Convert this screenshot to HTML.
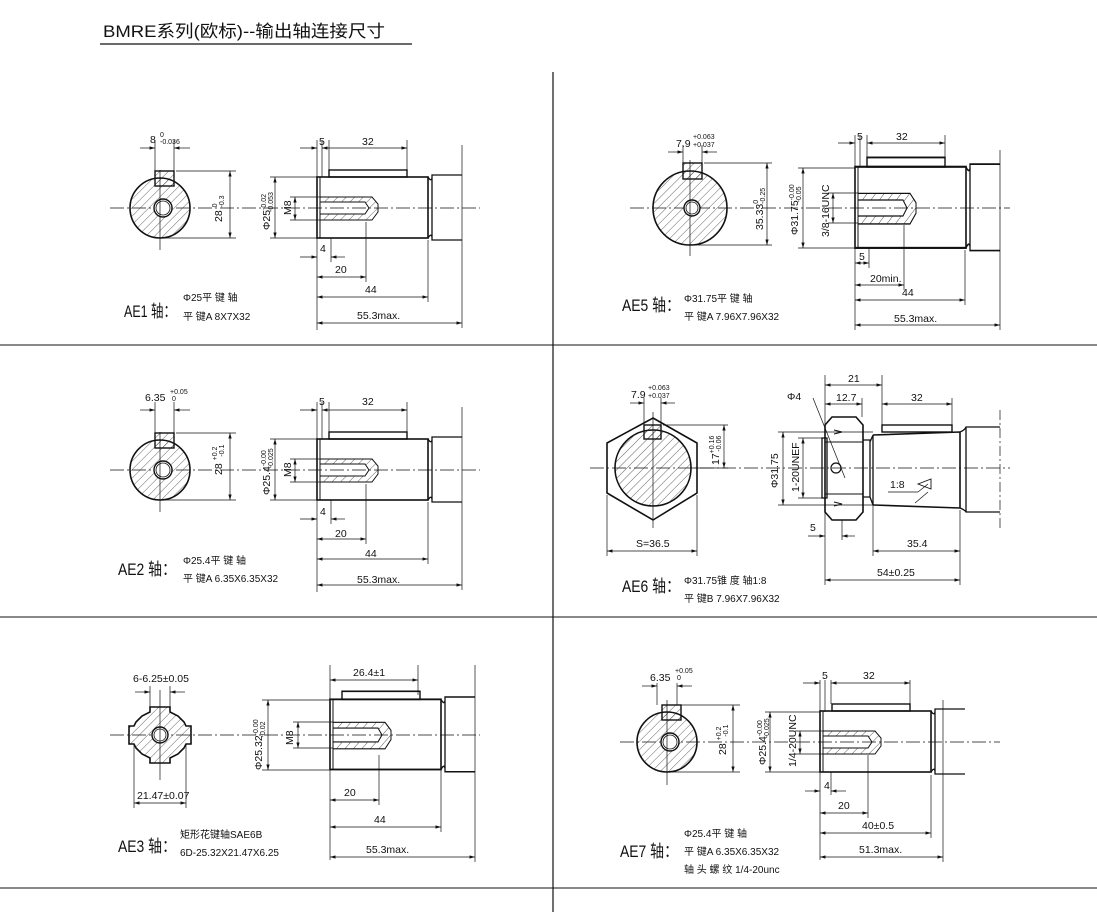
<!DOCTYPE html>
<html><head><meta charset="utf-8"><style>
html,body{margin:0;padding:0;background:#fff;}
svg{display:block;font-family:"Liberation Sans Narrow","Liberation Sans","Noto Sans CJK SC",sans-serif;}
.t{font-size:11px;fill:#111}
.s{font-size:7px;fill:#111}
.lb{font-size:17px;fill:#111;font-family:"Liberation Sans Narrow","Liberation Sans","Noto Sans CJK SC",sans-serif}
.d{font-size:10.5px;fill:#111;font-family:"Liberation Sans Narrow","Liberation Sans","Noto Sans CJK SC",sans-serif}
</style></head><body>
<svg width="1097" height="912" viewBox="0 0 1097 912" xmlns="http://www.w3.org/2000/svg">
<defs>
<pattern id="h" width="6" height="6" patternUnits="userSpaceOnUse" patternTransform="rotate(45)"><line x1="0" y1="0" x2="0" y2="6" stroke="#222" stroke-width="0.7"/></pattern>
<marker id="a" viewBox="0 0 10 6" refX="10" refY="3" markerWidth="8" markerHeight="5" orient="auto-start-reverse"><path d="M0,0 L10,3 L0,6 z" fill="#111"/></marker>
<g id="shaft" fill="none" stroke="#111">
 <rect x="317" y="177" width="111" height="61" stroke-width="1.6"/>
 <rect x="329" y="170" width="78" height="7" stroke-width="1.4"/>
 <path d="M428,177 Q431,182 432,178 L432,175 L462,175 M428,238 Q431,233 432,237 L432,240 L462,240 M432,178 L432,237" stroke-width="1.3"/>
 <path d="M320,197 L372,197 L378,204 L378,212 L372,220 L320,220 L320,214 L365,214 L369,208 L365,202 L320,202 Z" fill="url(#h)" stroke-width="1"/>
 <path d="M320,177 L320,238" stroke-width="1"/>
</g>
<g id="keycirc">
 <circle cx="160" cy="208" r="30" fill="url(#h)" stroke="#111" stroke-width="1.6"/>
 <rect x="155" y="171" width="19" height="15" fill="url(#h)" stroke="#111" stroke-width="1.4"/>
 <circle cx="163" cy="208" r="9" fill="#fff" stroke="#111" stroke-width="1.4"/>
 <circle cx="163" cy="208" r="7" fill="none" stroke="#111" stroke-width="0.8"/>
</g>
</defs>

<!-- frame -->
<text x="103" y="37" style="font-size:17px" fill="#111" textLength="282" lengthAdjust="spacingAndGlyphs">BMRE系列(欧标)--输出轴连接尺寸</text>
<line x1="100" y1="44" x2="412" y2="44" stroke="#111" stroke-width="1.2"/>
<line x1="553" y1="72" x2="553" y2="912" stroke="#111" stroke-width="1.2"/>
<line x1="0" y1="345" x2="1097" y2="345" stroke="#111" stroke-width="1"/>
<line x1="0" y1="617" x2="1097" y2="617" stroke="#111" stroke-width="1"/>
<line x1="0" y1="888" x2="1097" y2="888" stroke="#111" stroke-width="1"/>

<g stroke="#111" stroke-width="0.7" fill="none" stroke-dasharray="14,3,2,3">
<line x1="110" y1="208" x2="480" y2="208"/><line x1="110" y1="470" x2="480" y2="470"/><line x1="110" y1="735" x2="480" y2="735"/>
<line x1="630" y1="208" x2="1010" y2="208"/><line x1="590" y1="468" x2="1010" y2="468"/><line x1="620" y1="742" x2="1000" y2="742"/>
</g>

<!-- AE1 -->
<g id="p1">
<use href="#keycirc"/><use href="#shaft"/>
<g stroke="#111" stroke-width="0.7" fill="none">
<line x1="160" y1="170" x2="160" y2="250"/>
<line x1="155" y1="140" x2="155" y2="171"/><line x1="174" y1="140" x2="174" y2="171"/>
<line x1="140" y1="148" x2="155" y2="148" marker-end="url(#a)"/><line x1="190" y1="148" x2="174" y2="148" marker-end="url(#a)"/>
<line x1="176" y1="171" x2="236" y2="171"/><line x1="162" y1="238" x2="236" y2="238"/>
<line x1="230" y1="171" x2="230" y2="238" marker-start="url(#a)" marker-end="url(#a)"/>
<line x1="317" y1="140" x2="317" y2="330"/><line x1="322" y1="140" x2="322" y2="177"/><line x1="329" y1="140" x2="329" y2="170"/><line x1="407" y1="140" x2="407" y2="170"/>
<line x1="300" y1="148" x2="317" y2="148" marker-end="url(#a)"/><line x1="322" y1="148" x2="407" y2="148" marker-start="url(#a)" marker-end="url(#a)"/>
<line x1="331" y1="238" x2="331" y2="262"/><line x1="300" y1="257" x2="317" y2="257" marker-end="url(#a)"/><line x1="345" y1="257" x2="331" y2="257" marker-end="url(#a)"/>
<line x1="366" y1="222" x2="366" y2="282"/><line x1="317" y1="277" x2="366" y2="277" marker-start="url(#a)" marker-end="url(#a)"/>
<line x1="428" y1="240" x2="428" y2="302"/><line x1="317" y1="297" x2="428" y2="297" marker-start="url(#a)" marker-end="url(#a)"/>
<line x1="462" y1="145" x2="462" y2="328"/><line x1="317" y1="323" x2="462" y2="323" marker-start="url(#a)" marker-end="url(#a)"/>
<line x1="270" y1="177" x2="317" y2="177"/><line x1="270" y1="238" x2="317" y2="238"/>
<line x1="275" y1="177" x2="275" y2="238" marker-start="url(#a)" marker-end="url(#a)"/>
<line x1="290" y1="197" x2="320" y2="197"/><line x1="290" y1="220" x2="320" y2="220"/>
<line x1="295" y1="197" x2="295" y2="220" marker-start="url(#a)" marker-end="url(#a)"/>
</g>
</g>
<text class="d" x="150" y="143">8</text><text class="s" x="160" y="137">0</text><text class="s" x="160" y="144">-0.036</text>
<text class="d" transform="translate(222,222) rotate(-90)">28 <tspan class="s" dy="-5">0</tspan><tspan class="s" dx="-4" dy="7">-0.3</tspan></text>
<text class="d" x="319" y="145">5</text><text class="d" x="362" y="145">32</text>
<text class="d" x="320" y="252">4</text><text class="d" x="335" y="273">20</text><text class="d" x="365" y="293">44</text><text class="d" x="357" y="319">55.3max.</text>
<text class="d" transform="translate(270,230) rotate(-90)">Φ25<tspan class="s" dy="-4">-0.02</tspan><tspan class="s" dx="-18" dy="7">-0.053</tspan></text>
<text class="d" transform="translate(291,215) rotate(-90)">M8</text>
<text class="lb" x="124" y="317" textLength="52" lengthAdjust="spacingAndGlyphs">AE1 轴：</text>
<text class="t" x="183" y="301" style="font-size:10px">Φ25平 键 轴</text><text class="t" x="183" y="320" style="font-size:10px">平 键A 8X7X32</text>

<!-- AE2 -->
<g transform="translate(0,262)">
<use href="#p1"/>
</g>
<g transform="translate(0,255)">
<text class="d" x="145" y="146">6.35</text><text class="s" x="170" y="139">+0.05</text><text class="s" x="172" y="146">0</text>
<text class="d" transform="translate(222,220) rotate(-90)">28 <tspan class="s" dy="-5">+0.2</tspan><tspan class="s" dx="-10" dy="7">-0.1</tspan></text>
<text class="d" x="319" y="150">5</text><text class="d" x="362" y="150">32</text>
<text class="d" x="320" y="260">4</text><text class="d" x="335" y="282">20</text><text class="d" x="365" y="302">44</text><text class="d" x="357" y="328">55.3max.</text>
<text class="d" transform="translate(270,240) rotate(-90)">Φ25.4<tspan class="s" dy="-4">-0.00</tspan><tspan class="s" dx="-18" dy="7">-0.025</tspan></text>
<text class="d" transform="translate(291,222) rotate(-90)">M8</text>
<text class="lb" x="118" y="320" textLength="58" lengthAdjust="spacingAndGlyphs">AE2 轴：</text>
<text class="t" x="183" y="309" style="font-size:10px">Φ25.4平 键 轴</text><text class="t" x="183" y="327" style="font-size:10px">平 键A 6.35X6.35X32</text>
</g>

<!-- AE3 -->
<g transform="translate(13,735) scale(1,1.15) translate(0,-208)"><use href="#shaft"/></g>
<g stroke="#111" fill="none">
<path d="M150,707 L170,707 L170,712 L178,716 L184,722 L186,726 L191,726 L191,744 L186,744 L184,748 L178,754 L170,758 L170,763 L150,763 L150,758 L142,754 L136,748 L134,744 L129,744 L129,726 L134,726 L136,722 L142,716 L150,712 Z" fill="url(#h)" stroke-width="1.6"/>
<circle cx="160" cy="735" r="8" fill="#fff" stroke-width="1.4"/><circle cx="160" cy="735" r="6" stroke-width="0.8"/>
<g stroke-width="0.7">
<line x1="160" y1="690" x2="160" y2="780"/>
<line x1="150" y1="686" x2="150" y2="707"/><line x1="170" y1="686" x2="170" y2="707"/>
<line x1="135" y1="692" x2="150" y2="692" marker-end="url(#a)"/><line x1="185" y1="692" x2="170" y2="692" marker-end="url(#a)"/>
<line x1="134" y1="745" x2="134" y2="808"/><line x1="186" y1="745" x2="186" y2="808"/>
<line x1="134" y1="803" x2="186" y2="803" marker-start="url(#a)" marker-end="url(#a)"/>
<line x1="330" y1="665" x2="330" y2="860"/><line x1="418" y1="665" x2="418" y2="695"/>
<line x1="330" y1="680" x2="418" y2="680" marker-start="url(#a)" marker-end="url(#a)"/>
<line x1="379" y1="755" x2="379" y2="805"/><line x1="330" y1="800" x2="379" y2="800" marker-start="url(#a)" marker-end="url(#a)"/>
<line x1="441" y1="770" x2="441" y2="832"/><line x1="330" y1="827" x2="441" y2="827" marker-start="url(#a)" marker-end="url(#a)"/>
<line x1="475" y1="665" x2="475" y2="862"/><line x1="330" y1="857" x2="475" y2="857" marker-start="url(#a)" marker-end="url(#a)"/>
<line x1="262" y1="700" x2="330" y2="700"/><line x1="262" y1="770" x2="330" y2="770"/>
<line x1="268" y1="700" x2="268" y2="770" marker-start="url(#a)" marker-end="url(#a)"/>
<line x1="293" y1="722" x2="333" y2="722"/><line x1="293" y1="748" x2="333" y2="748"/>
<line x1="298" y1="722" x2="298" y2="748" marker-start="url(#a)" marker-end="url(#a)"/>
</g></g>
<text class="d" x="133" y="682">6-6.25±0.05</text>
<text class="d" x="137" y="799">21.47±0.07</text>
<text class="d" x="353" y="676">26.4±1</text><text class="d" x="344" y="796">20</text><text class="d" x="374" y="823">44</text><text class="d" x="366" y="853">55.3max.</text>
<text class="d" transform="translate(262,770) rotate(-90)">Φ25.32<tspan class="s" dy="-4">-0.00</tspan><tspan class="s" dx="-18" dy="7">-0.02</tspan></text>
<text class="d" transform="translate(293,745) rotate(-90)">M8</text>
<text class="lb" x="118" y="852" textLength="58" lengthAdjust="spacingAndGlyphs">AE3 轴：</text>
<text class="t" x="180" y="838" style="font-size:10px">矩形花键轴SAE6B</text><text class="t" x="180" y="856" style="font-size:10px">6D-25.32X21.47X6.25</text>

<!-- AE5 -->
<g transform="translate(538,208) scale(1,1.33) translate(0,-208)"><use href="#shaft"/></g>
<g stroke="#111" fill="none">
<circle cx="690" cy="208" r="37" fill="url(#h)" stroke-width="1.6"/>
<rect x="683" y="163" width="19" height="16" fill="url(#h)" stroke-width="1.4"/>
<circle cx="692" cy="208" r="8" fill="#fff" stroke-width="1.4"/><circle cx="692" cy="208" r="6" stroke-width="0.8"/>
<g stroke-width="0.7">
<line x1="690" y1="160" x2="690" y2="256"/>
<line x1="683" y1="145" x2="683" y2="163"/><line x1="702" y1="145" x2="702" y2="163"/>
<line x1="668" y1="152" x2="683" y2="152" marker-end="url(#a)"/><line x1="717" y1="152" x2="702" y2="152" marker-end="url(#a)"/>
<line x1="704" y1="163" x2="772" y2="163"/><line x1="692" y1="245" x2="772" y2="245"/>
<line x1="767" y1="163" x2="767" y2="245" marker-start="url(#a)" marker-end="url(#a)"/>
<line x1="855" y1="135" x2="855" y2="330"/><line x1="860" y1="135" x2="860" y2="167"/><line x1="867" y1="135" x2="867" y2="160"/><line x1="945" y1="135" x2="945" y2="160"/>
<line x1="838" y1="143" x2="855" y2="143" marker-end="url(#a)"/><line x1="867" y1="143" x2="945" y2="143" marker-start="url(#a)" marker-end="url(#a)"/>
<line x1="869" y1="248" x2="869" y2="268"/><line x1="855" y1="263" x2="869" y2="263" marker-start="url(#a)" marker-end="url(#a)"/>
<line x1="904" y1="225" x2="904" y2="290"/><line x1="855" y1="285" x2="904" y2="285" marker-start="url(#a)" marker-end="url(#a)"/>
<line x1="965" y1="250" x2="965" y2="305"/><line x1="855" y1="300" x2="965" y2="300" marker-start="url(#a)" marker-end="url(#a)"/>
<line x1="1000" y1="150" x2="1000" y2="330"/><line x1="855" y1="325" x2="1000" y2="325" marker-start="url(#a)" marker-end="url(#a)"/>
<line x1="798" y1="168" x2="855" y2="168"/><line x1="798" y1="248" x2="855" y2="248"/>
<line x1="803" y1="168" x2="803" y2="248" marker-start="url(#a)" marker-end="url(#a)"/>
<line x1="828" y1="193" x2="858" y2="193"/><line x1="828" y1="223" x2="858" y2="223"/>
<line x1="833" y1="193" x2="833" y2="223" marker-start="url(#a)" marker-end="url(#a)"/>
</g></g>
<text class="d" x="676" y="147">7.9</text><text class="s" x="693" y="139">+0.063</text><text class="s" x="693" y="147">+0.037</text>
<text class="d" transform="translate(763,230) rotate(-90)">35.33<tspan class="s" dy="-5">0</tspan><tspan class="s" dx="-4" dy="7">-0.25</tspan></text>
<text class="d" x="857" y="140">5</text><text class="d" x="896" y="140">32</text>
<text class="d" x="859" y="260">5</text><text class="d" x="870" y="282">20min.</text><text class="d" x="902" y="296">44</text><text class="d" x="894" y="322">55.3max.</text>
<text class="d" transform="translate(798,235) rotate(-90)">Φ31.75<tspan class="s" dy="-4">-0.00</tspan><tspan class="s" dx="-18" dy="7">-0.05</tspan></text>
<text class="d" transform="translate(829,237) rotate(-90)">3/8-16UNC</text>
<text class="lb" x="622" y="311" textLength="58" lengthAdjust="spacingAndGlyphs">AE5 轴：</text>
<text class="t" x="684" y="302" style="font-size:10px">Φ31.75平 键 轴</text><text class="t" x="684" y="320" style="font-size:10px">平 键A 7.96X7.96X32</text>

<!-- AE6 -->
<g stroke="#111" fill="none">
<polygon points="653,418 697,443 697,493 653,520 607,493 607,443" stroke-width="1.6"/>
<circle cx="653" cy="468" r="38" fill="url(#h)" stroke-width="1.6"/>
<rect x="644" y="425" width="17" height="14" fill="url(#h)" stroke-width="1.4"/>
<g stroke-width="0.7">
<line x1="653" y1="412" x2="653" y2="528"/>
<line x1="644" y1="398" x2="644" y2="425"/><line x1="661" y1="398" x2="661" y2="425"/>
<line x1="630" y1="403" x2="644" y2="403" marker-end="url(#a)"/><line x1="675" y1="403" x2="661" y2="403" marker-end="url(#a)"/>
<line x1="663" y1="425" x2="728" y2="425"/><line x1="690" y1="468" x2="728" y2="468"/>
<line x1="724" y1="425" x2="724" y2="468" marker-start="url(#a)" marker-end="url(#a)"/>
<line x1="607" y1="495" x2="607" y2="556"/><line x1="697" y1="495" x2="697" y2="556"/>
<line x1="607" y1="551" x2="697" y2="551" marker-start="url(#a)" marker-end="url(#a)"/>
</g>
<path d="M832,417 L856,417 L863,425 L863,512 L856,520 L832,520 L825,512 L825,425 Z" stroke-width="1.6"/>
<path d="M825,442 L863,442 M825,494 L863,494" stroke-width="1"/>
<path d="M834,430 L842,432 L834,434 M834,502 L842,504 L834,506" stroke-width="1"/>
<path d="M863,440 L870,440 L870,497 L863,497 M870,442 L873,435 L873,505 L870,497" stroke-width="1.3"/>
<path d="M873,435 L960,432 M873,505 L960,508 M960,432 L960,508" stroke-width="1.6"/>
<rect x="882" y="425" width="70" height="7" stroke-width="1.4"/>
<path d="M960,432 Q965,430 966,427 L1000,427 M960,508 Q965,510 966,512 L1000,512 M966,427 L966,512" stroke-width="1.3"/>
<rect x="822" y="438" width="5" height="60" stroke-width="1.3"/>
<circle cx="836" cy="468" r="5" stroke-width="1.2"/>
<g stroke-width="0.7">
<line x1="825" y1="375" x2="825" y2="585"/><line x1="882" y1="375" x2="882" y2="425"/><line x1="862" y1="398" x2="862" y2="417"/><line x1="952" y1="398" x2="952" y2="425"/>
<line x1="825" y1="385" x2="882" y2="385" marker-start="url(#a)" marker-end="url(#a)"/>
<line x1="825" y1="404" x2="862" y2="404" marker-start="url(#a)" marker-end="url(#a)"/>
<line x1="882" y1="404" x2="952" y2="404" marker-start="url(#a)" marker-end="url(#a)"/>
<line x1="813" y1="398" x2="845" y2="478"/>
<line x1="778" y1="432" x2="873" y2="432"/><line x1="778" y1="505" x2="873" y2="505"/>
<line x1="783" y1="432" x2="783" y2="505" marker-start="url(#a)" marker-end="url(#a)"/>
<line x1="798" y1="438" x2="822" y2="438"/><line x1="798" y1="498" x2="822" y2="498"/>
<line x1="803" y1="438" x2="803" y2="498" marker-start="url(#a)" marker-end="url(#a)"/>
<line x1="842" y1="520" x2="842" y2="540"/><line x1="808" y1="536" x2="825" y2="536" marker-end="url(#a)"/><line x1="855" y1="536" x2="842" y2="536" marker-end="url(#a)"/>
<line x1="873" y1="505" x2="873" y2="556"/><line x1="960" y1="510" x2="960" y2="585"/>
<line x1="873" y1="551" x2="960" y2="551" marker-start="url(#a)" marker-end="url(#a)"/>
<line x1="825" y1="580" x2="960" y2="580" marker-start="url(#a)" marker-end="url(#a)"/>
<line x1="1000" y1="410" x2="1000" y2="530" stroke-dasharray="10,3,2,3"/>
<line x1="888" y1="492" x2="918" y2="492"/><line x1="918" y1="492" x2="928" y2="484"/><line x1="915" y1="503" x2="928" y2="492"/>
</g></g>
<path d="M918,484 L931,479 L931,489 Z" fill="none" stroke="#111" stroke-width="0.9"/>
<text class="d" x="890" y="488">1:8</text>
<text class="d" x="631" y="398">7.9</text><text class="s" x="648" y="390">+0.063</text><text class="s" x="648" y="398">+0.037</text>
<text class="d" transform="translate(719,465) rotate(-90)">17<tspan class="s" dy="-5">+0.16</tspan><tspan class="s" dx="-16" dy="7">-0.06</tspan></text>
<text class="d" x="636" y="547">S=36.5</text>
<text class="d" x="848" y="382">21</text><text class="d" x="836" y="401">12.7</text><text class="d" x="911" y="401">32</text>
<text class="d" x="787" y="400">Φ4</text>
<text class="d" transform="translate(778,488) rotate(-90)">Φ31.75</text>
<text class="d" transform="translate(799,492) rotate(-90)">1-20UNEF</text>
<text class="d" x="810" y="531">5</text><text class="d" x="907" y="547">35.4</text><text class="d" x="877" y="576">54±0.25</text>
<text class="lb" x="622" y="592" textLength="58" lengthAdjust="spacingAndGlyphs">AE6 轴：</text>
<text class="t" x="684" y="584" style="font-size:10px">Φ31.75锥 度 轴1:8</text><text class="t" x="684" y="602" style="font-size:10px">平 键B 7.96X7.96X32</text>

<!-- AE7 -->
<g transform="translate(503,534)"><use href="#shaft"/></g>
<g transform="translate(507,534)"><use href="#keycirc"/></g>
<g stroke="#111" fill="none" stroke-width="0.7">
<line x1="667" y1="700" x2="667" y2="785"/>
<line x1="657" y1="683" x2="657" y2="705"/><line x1="677" y1="683" x2="677" y2="705"/>
<line x1="642" y1="686" x2="657" y2="686" marker-end="url(#a)"/><line x1="692" y1="686" x2="677" y2="686" marker-end="url(#a)"/>
<line x1="680" y1="705" x2="740" y2="705"/><line x1="667" y1="772" x2="740" y2="772"/>
<line x1="733" y1="705" x2="733" y2="772" marker-start="url(#a)" marker-end="url(#a)"/>
<line x1="820" y1="680" x2="820" y2="860"/><line x1="825" y1="680" x2="825" y2="712"/><line x1="831" y1="680" x2="831" y2="704"/><line x1="910" y1="680" x2="910" y2="704"/>
<line x1="803" y1="683" x2="820" y2="683" marker-end="url(#a)"/><line x1="831" y1="683" x2="910" y2="683" marker-start="url(#a)" marker-end="url(#a)"/>
<line x1="831" y1="772" x2="831" y2="795"/><line x1="805" y1="791" x2="820" y2="791" marker-end="url(#a)"/><line x1="846" y1="791" x2="831" y2="791" marker-end="url(#a)"/>
<line x1="868" y1="755" x2="868" y2="818"/><line x1="820" y1="813" x2="868" y2="813" marker-start="url(#a)" marker-end="url(#a)"/>
<line x1="931" y1="775" x2="931" y2="838"/><line x1="820" y1="833" x2="931" y2="833" marker-start="url(#a)" marker-end="url(#a)"/>
<line x1="943" y1="700" x2="943" y2="862"/><line x1="820" y1="857" x2="943" y2="857" marker-start="url(#a)" marker-end="url(#a)"/>
<line x1="765" y1="712" x2="820" y2="712"/><line x1="765" y1="772" x2="820" y2="772"/>
<line x1="770" y1="712" x2="770" y2="772" marker-start="url(#a)" marker-end="url(#a)"/>
<line x1="795" y1="731" x2="823" y2="731"/><line x1="795" y1="754" x2="823" y2="754"/>
<line x1="800" y1="731" x2="800" y2="754" marker-start="url(#a)" marker-end="url(#a)"/>
</g>
<text class="d" x="650" y="681">6.35</text><text class="s" x="675" y="673">+0.05</text><text class="s" x="677" y="680">0</text>
<text class="d" transform="translate(726,755) rotate(-90)">28 <tspan class="s" dy="-5">+0.2</tspan><tspan class="s" dx="-10" dy="7">-0.1</tspan></text>
<text class="d" x="822" y="679">5</text><text class="d" x="863" y="679">32</text>
<text class="d" x="824" y="789">4</text><text class="d" x="838" y="809">20</text><text class="d" x="862" y="829">40±0.5</text><text class="d" x="859" y="853">51.3max.</text>
<text class="d" transform="translate(766,765) rotate(-90)">Φ25.4<tspan class="s" dy="-4">-0.00</tspan><tspan class="s" dx="-18" dy="7">-0.025</tspan></text>
<text class="d" transform="translate(796,767) rotate(-90)">1/4-20UNC</text>
<text class="lb" x="620" y="857" textLength="58" lengthAdjust="spacingAndGlyphs">AE7 轴：</text>
<text class="t" x="684" y="837" style="font-size:10px">Φ25.4平 键 轴</text><text class="t" x="684" y="855" style="font-size:10px">平 键A 6.35X6.35X32</text><text class="t" x="684" y="873" style="font-size:10px">轴 头 螺 纹 1/4-20unc</text>
</svg>
</body></html>
